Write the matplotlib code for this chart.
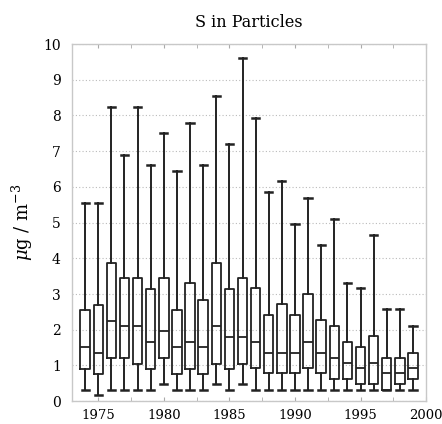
import matplotlib
matplotlib.use("Agg")
import matplotlib.pyplot as plt
from matplotlib.ticker import MultipleLocator

years = list(range(1974, 2000))
whislo = [0.31, 0.17, 0.31, 0.31, 0.31, 0.31, 0.47, 0.31, 0.31, 0.31, 0.47, 0.31, 0.47,
          0.31, 0.31, 0.31, 0.31, 0.31, 0.31, 0.31, 0.31, 0.31, 0.31, 0.31, 0.31, 0.31]
q1 = [0.90, 0.77, 1.21, 1.21, 1.05, 0.90, 1.21, 0.77, 0.90, 0.77, 1.05, 0.90, 1.05,
      0.92, 0.78, 0.78, 0.78, 0.92, 0.78, 0.62, 0.62, 0.48, 0.48, 0.31, 0.48, 0.62]
med = [1.51, 1.36, 2.24, 2.10, 2.10, 1.65, 1.95, 1.51, 1.65, 1.51, 2.10, 1.80, 1.80,
       1.66, 1.36, 1.36, 1.36, 1.66, 1.36, 1.21, 1.07, 0.92, 1.07, 0.78, 0.78, 0.92]
q3 = [2.55, 2.69, 3.88, 3.44, 3.44, 3.14, 3.44, 2.55, 3.30, 2.84, 3.88, 3.14, 3.44,
      3.16, 2.41, 2.71, 2.41, 3.00, 2.26, 2.11, 1.66, 1.51, 1.81, 1.21, 1.21, 1.36]
whishi = [5.56, 5.56, 8.25, 6.90, 8.25, 6.60, 7.50, 6.45, 7.80, 6.60, 8.54, 7.20, 9.60,
          7.94, 5.85, 6.16, 4.96, 5.70, 4.36, 5.10, 3.32, 3.16, 4.66, 2.57, 2.57, 2.11]

title = "S in Particles"
ylabel = r"$\mu$g / m$^{-3}$"

plt.rcParams['font.family'] = ['DejaVu Serif']
plt.rcParams['mathtext.fontset'] = 'dejavuserif'

fig = plt.figure(figsize=(4.42, 4.24), dpi=100)
ax = fig.add_axes([0.163, 0.054, 0.801, 0.842])

stats = []
for i in range(len(years)):
    stats.append(dict(whislo=whislo[i], q1=q1[i], med=med[i], q3=q3[i], whishi=whishi[i], fliers=[]))

col = '#222222'
ax.bxp(stats, positions=years, widths=0.72, showfliers=False,
       boxprops=dict(color=col, linewidth=1.3),
       medianprops=dict(color=col, linewidth=1.3),
       whiskerprops=dict(color=col, linewidth=1.4),
       capprops=dict(color=col, linewidth=1.8),
       capwidths=0.55, manage_ticks=False)

ax.set_xlim(1973, 2000)
ax.set_ylim(0, 10)
ax.xaxis.set_major_locator(MultipleLocator(5))
ax.xaxis.set_minor_locator(MultipleLocator(2.5))
ax.yaxis.set_major_locator(MultipleLocator(1))
ax.grid(axis='y', color='#bbbbbb', linestyle=(0, (1, 2)), linewidth=0.8)
ax.set_axisbelow(True)
for s in ax.spines.values():
    s.set_color('#c8c8c8')
    s.set_linewidth(1.0)
ax.tick_params(axis='x', which='both', direction='in', top=True, length=3, color='#aaaaaa',
               labelsize=9.5, pad=6)
ax.tick_params(axis='y', which='both', length=0, labelsize=10, pad=8)
ax.set_title(title, fontsize=11.5, pad=12)
ax.set_ylabel(ylabel, fontsize=13, labelpad=6)

fig.savefig("out.png", dpi=100)
